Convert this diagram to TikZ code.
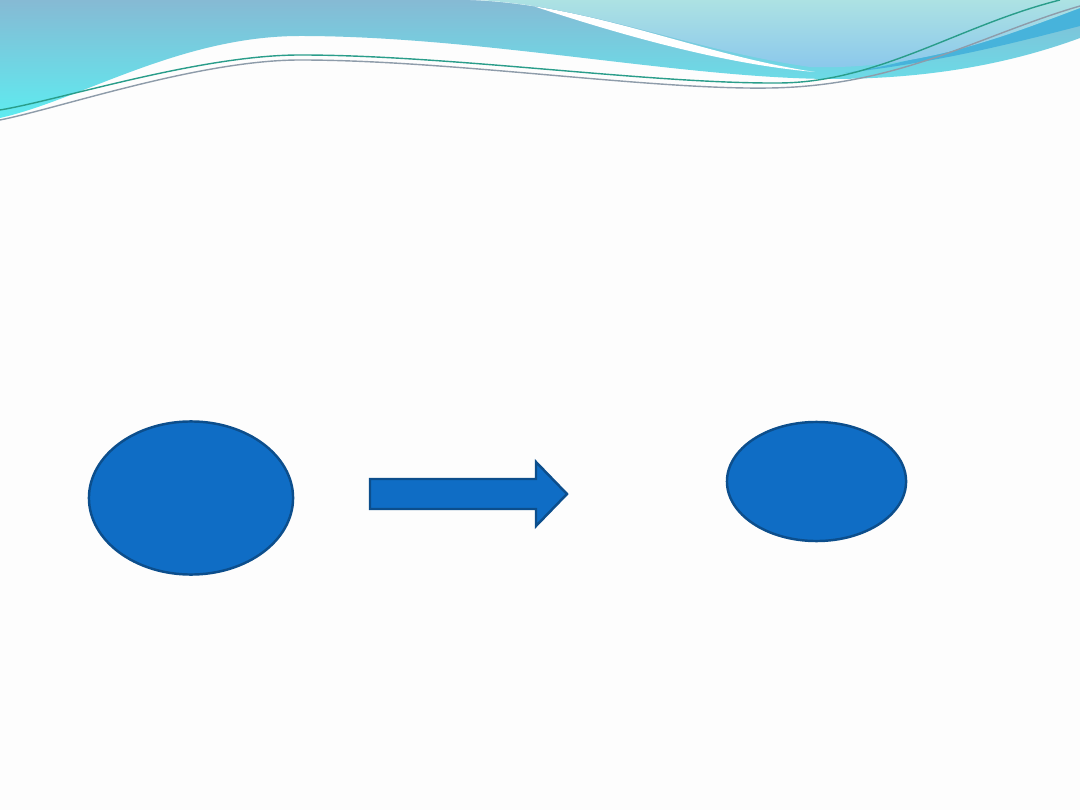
\documentclass[tikz,border=0pt]{standalone}
\usepackage{tikz}
\usetikzlibrary{shapes.geometric}

\definecolor{blu}{HTML}{0F6DC5}
\definecolor{blubordo}{HTML}{0C4E8C}
\definecolor{sfondo}{HTML}{FDFDFD}
\definecolor{onda}{HTML}{86BAD4}
\definecolor{ciano}{HTML}{5EEBF0}
\definecolor{chiaro}{HTML}{ADE2E3}
\definecolor{celeste}{HTML}{8AC7EC}
\definecolor{scuro}{HTML}{47B3DB}
\definecolor{verde}{HTML}{2A9D8A}
\definecolor{grigio}{HTML}{8E9CAA}

\begin{document}
\begin{tikzpicture}[x=0.01cm, y=-0.01cm,
	forma/.style={ellipse, fill=blu, draw=blubordo, line width=0.7pt, inner sep=0pt}]
	\useasboundingbox (0,0) rectangle (1080,810);
	\fill[sfondo] (0,0) rectangle (1080,810);

	\begin{scope}
		% onda in alto
		\shade[top color=onda, bottom color=ciano] (0,0) -- (0,118) .. controls (80,100) and (180,36) .. (300,36) .. controls (480,36) and (680,78) .. (830,79) .. controls (940,79) and (1020,60) .. (1080,38) -- (1080,0) -- cycle;
		\fill[white] (515,0) .. controls (610,32) and (720,64) .. (815,72) .. controls (700,55) and (590,4) .. (470,0) -- cycle; % striscia bianca
		\fill[scuro] (845,73) .. controls (940,62) and (1010,44) .. (1080,26) -- (1080,4) .. controls (1000,34) and (920,62) .. (845,73) -- cycle;
		\shade[top color=chiaro, bottom color=celeste] (477,0) .. controls (590,6) and (690,50) .. (810,67) .. controls (920,70) and (1000,38) .. (1080,8) -- (1080,0) -- cycle;

		\draw[verde, line width=0.4pt] (0,110) .. controls (60,100) and (200,55) .. (300,55) .. controls (450,55) and (650,84) .. (780,83) .. controls (880,82) and (960,25) .. (1060,0);
		\draw[grigio, line width=0.4pt] (0,120) .. controls (60,108) and (200,60) .. (300,60) .. controls (450,60) and (650,90) .. (770,88) .. controls (900,86) and (980,35) .. (1080,6);
	\end{scope}

	\node[forma, minimum width=2.04cm, minimum height=1.53cm] (prima) at (191,498) {};
	\node[forma, minimum width=1.79cm, minimum height=1.19cm] (dopo) at (816.5,481.5) {};

	\draw[fill=blu, draw=blubordo, line width=0.7pt] (370,479) -- (536,479) -- (536,462) -- (567,494) -- (536,526) -- (536,509) -- (370,509) -- cycle; % freccia
\end{tikzpicture}
\end{document}
